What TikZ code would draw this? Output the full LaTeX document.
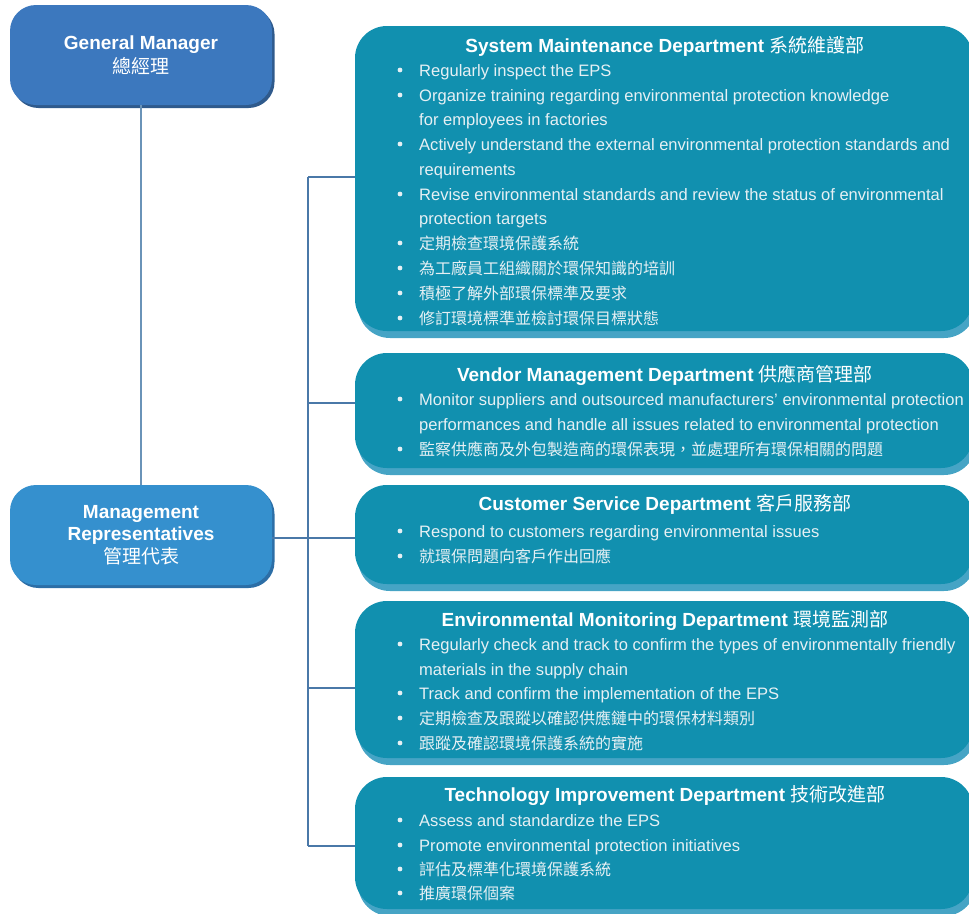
\documentclass[tikz,border=0pt]{standalone}
\usepackage{fontspec}
\setmainfont{Liberation Sans}
\newfontfamily\cjk{Noto Sans CJK TC}
\usetikzlibrary{shadows}
\definecolor{gmblue}{HTML}{3C78BE}
\definecolor{gmshadow}{HTML}{2F5A8C}
\definecolor{mrblue}{HTML}{3590CE}
\definecolor{mrshadow}{HTML}{2C6EA6}
\definecolor{deptc}{HTML}{1190AF}
\definecolor{deptshadow}{HTML}{46A4C5}
\definecolor{linec}{HTML}{4A78A8}
\definecolor{vlinec}{HTML}{6A93B8}
\definecolor{bodyc}{HTML}{E6F0F4}
\tikzset{
  mgr/.style={rectangle, rounded corners=26pt, minimum width=262pt, minimum height=100pt,
    text=white, align=center, inner sep=0pt},
  dept/.style={rectangle, rounded corners=32pt, fill=deptc, minimum width=618pt, inner sep=0pt,
    drop shadow={shadow xshift=3pt, shadow yshift=-7pt, fill=deptshadow, opacity=1}},
  ttl/.style={anchor=base, text=white, inner sep=0pt, font=\fontsize{19}{23}\selectfont},
  itemtxt/.style={anchor=base west, text=bodyc, inner sep=0pt, font=\fontsize{16.55}{20}\selectfont},
  cjktxt/.style={anchor=base west, text=bodyc, inner sep=0pt, font=\cjk\fontsize{16}{20}\selectfont},
  conn/.style={draw=linec, line width=1.4pt},
}
\newcommand{\bdot}[1]{\fill[bodyc] (400,#1) circle (2.4pt);}
\begin{document}
\begin{tikzpicture}[x=1pt,y=-1pt]
\useasboundingbox (0,0) rectangle (969,913);

% manager boxes
\node[mgr, fill=gmblue, font=\bfseries\fontsize{19}{24}\selectfont,
  drop shadow={shadow xshift=2.5pt, shadow yshift=-3pt, fill=gmshadow, opacity=1}]
  (gm) at (141,55) {General Manager\\{\cjk\mdseries 總經理}};
\node[mgr, fill=mrblue, font=\bfseries\fontsize{19}{22.5}\selectfont,
  drop shadow={shadow xshift=2.5pt, shadow yshift=-3pt, fill=mrshadow, opacity=1}]
  (mr) at (141,535) {Management\\Representatives\\{\cjk\mdseries 管理代表}};

% department boxes
\node[dept, minimum height=305pt] (d1) at (664,178.5) {};
\node[dept, minimum height=115pt] (d2) at (664,410.5) {};
\node[dept, minimum height=99pt]  (d3) at (664,534.5) {};
\node[dept, minimum height=157pt] (d4) at (664,679.5) {};
\node[dept, minimum height=132pt] (d5) at (664,843) {};

% connectors
\draw[draw=vlinec, line width=1.8pt] (gm.south) -- (gm.south |- mr.north);
\coordinate (m0) at (308,538);
\coordinate (b1) at (308,177);
\coordinate (b2) at (308,403);
\coordinate (b3) at (308,538);
\coordinate (b4) at (308,688);
\coordinate (b5) at (308,846);
\draw[conn] (mr.east |- m0) -- (m0);
\draw[conn] (b1) -- (b5);
\draw[conn] (b1) -- (b1 -| d1.west);
\draw[conn] (b2) -- (b2 -| d2.west);
\draw[conn] (b3) -- (b3 -| d3.west);
\draw[conn] (b4) -- (b4 -| d4.west);
\draw[conn] (b5) -- (b5 -| d5.west);

% Dept 1
\node[ttl] (t1) at (665,52) {\bfseries System Maintenance Department {\cjk\mdseries 系統維護部}};
\bdot{70}\node[itemtxt] (t1a) at (419,76) {Regularly inspect the EPS};
\bdot{95}\node[itemtxt] (t1b) at (419,101) {Organize training regarding environmental protection knowledge};
\node[itemtxt] (t1c) at (419,125) {for employees in factories};
\bdot{144}\node[itemtxt] (t1d) at (419,150) {Actively understand the external environmental protection standards and};
\node[itemtxt] (t1e) at (419,175) {requirements};
\bdot{194}\node[itemtxt] (t1f) at (419,200) {Revise environmental standards and review the status of environmental};
\node[itemtxt] (t1g) at (419,224) {protection targets};
\bdot{243}\node[cjktxt] (t1h) at (419,249) {定期檢查環境保護系統};
\bdot{268}\node[cjktxt] (t1i) at (419,274) {為工廠員工組織關於環保知識的培訓};
\bdot{293}\node[cjktxt] (t1j) at (419,299) {積極了解外部環保標準及要求};
\bdot{318}\node[cjktxt] (t1k) at (419,324) {修訂環境標準並檢討環保目標狀態};

% Dept 2
\node[ttl] (t2) at (665,381) {\bfseries Vendor Management Department {\cjk\mdseries 供應商管理部}};
\bdot{399}\node[itemtxt] (t2a) at (419,405) {Monitor suppliers and outsourced manufacturers’ environmental protection};
\node[itemtxt] (t2b) at (419,430) {performances and handle all issues related to environmental protection};
\bdot{449}\node[cjktxt] (t2c) at (419,455) {監察供應商及外包製造商的環保表現，並處理所有環保相關的問題};

% Dept 3
\node[ttl] (t3) at (665,510) {\bfseries Customer Service Department {\cjk\mdseries 客戶服務部}};
\bdot{531}\node[itemtxt] (t3a) at (419,537) {Respond to customers regarding environmental issues};
\bdot{556}\node[cjktxt] (t3b) at (419,562) {就環保問題向客戶作出回應};

% Dept 4
\node[ttl] (t4) at (665,626) {\bfseries Environmental Monitoring Department {\cjk\mdseries 環境監測部}};
\bdot{644}\node[itemtxt] (t4a) at (419,650) {Regularly check and track to confirm the types of environmentally friendly};
\node[itemtxt] (t4b) at (419,675) {materials in the supply chain};
\bdot{693}\node[itemtxt] (t4c) at (419,699) {Track and confirm the implementation of the EPS};
\bdot{718}\node[cjktxt] (t4d) at (419,724) {定期檢查及跟蹤以確認供應鏈中的環保材料類別};
\bdot{743}\node[cjktxt] (t4e) at (419,749) {跟蹤及確認環境保護系統的實施};

% Dept 5
\node[ttl] (t5) at (665,801) {\bfseries Technology Improvement Department {\cjk\mdseries 技術改進部}};
\bdot{820}\node[itemtxt] (t5a) at (419,826) {Assess and standardize the EPS};
\bdot{845}\node[itemtxt] (t5b) at (419,851) {Promote environmental protection initiatives};
\bdot{869}\node[cjktxt] (t5c) at (419,875) {評估及標準化環境保護系統};
\bdot{893}\node[cjktxt] (t5d) at (419,899) {推廣環保個案};
\end{tikzpicture}
\end{document}
